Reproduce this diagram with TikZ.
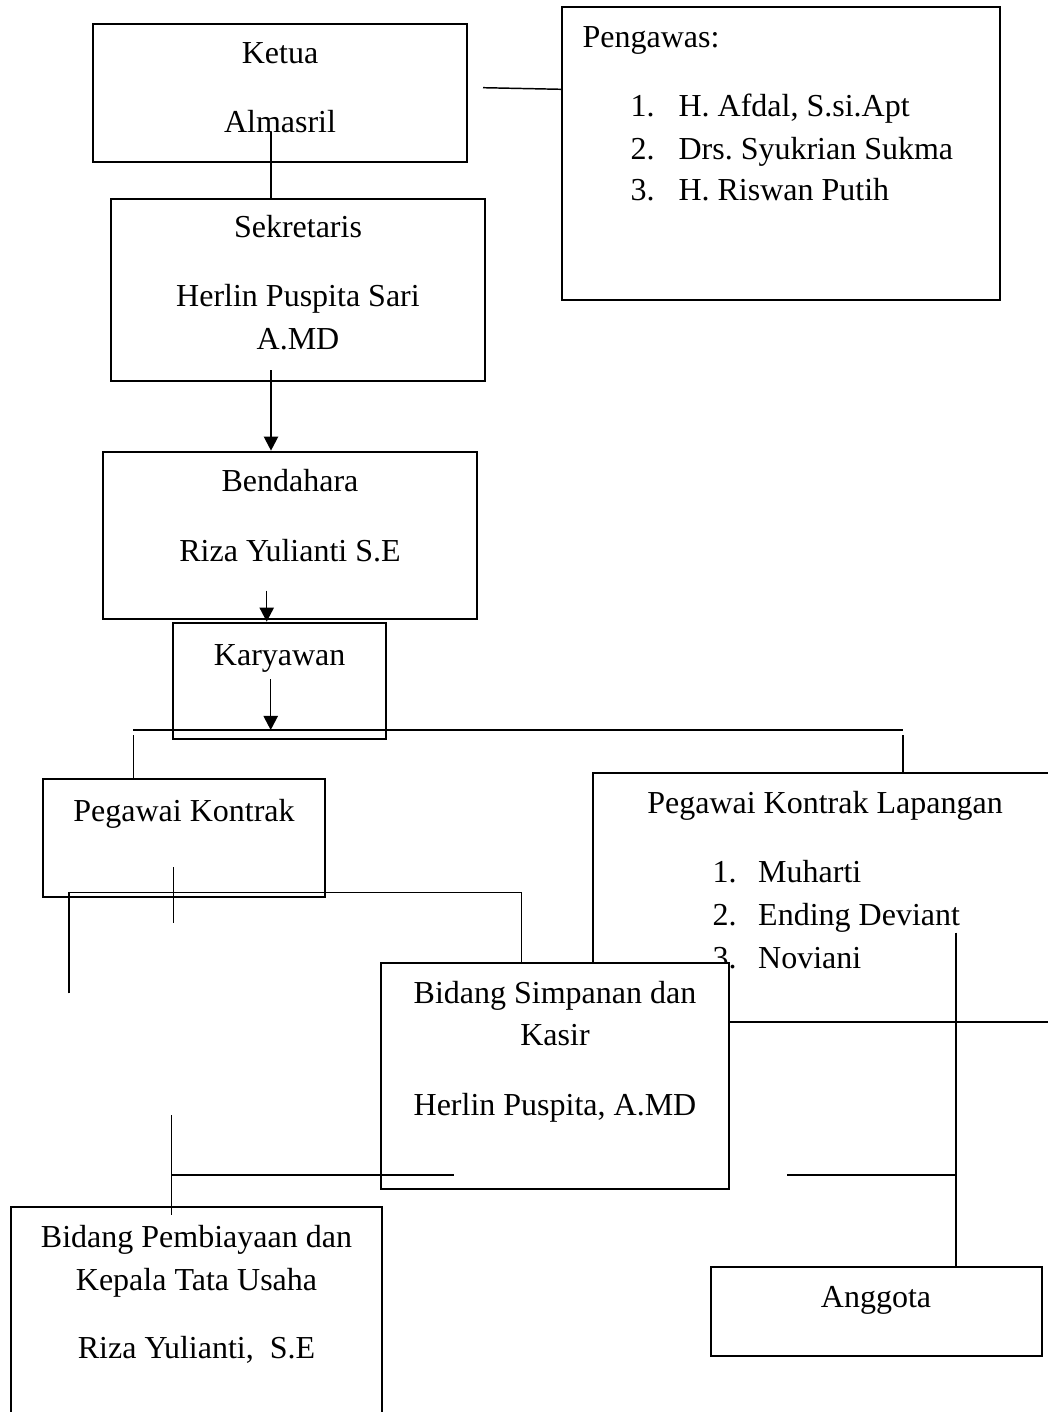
\documentclass[tikz,border=0pt]{standalone}
\usepackage{fontspec}
\setmainfont{Liberation Serif}
\usetikzlibrary{arrows.meta,fit}
\frenchspacing

\begin{document}
\begin{tikzpicture}[x=0.375pt, y=-0.375pt,
  box/.style={draw, line width=0.8pt, inner sep=0pt},
  lbl/.style={anchor=base, inner sep=0pt, font=\fontsize{12}{14}\selectfont},
  item/.style={lbl, anchor=base west},
  conn/.style={line width=0.55pt},
  arr/.style={conn, -{Triangle[length=5.3pt,width=5.4pt]}}]
\useasboundingbox (0,0) rectangle (1047,1412);

% upper part
\node[box, fit={(93,24) (467,162)}] (ketua) {};
\node[lbl] (ketuaA) at (280,63.3) {Ketua};
\node[lbl] (ketuaB) at (280,132.7) {Almasril};

\node[box, fit={(562,7.3) (1000,300)}] (pengawas) {};
\node[item] (pengawasT) at (582,47.3) {Pengawas:};
\node[item] (pn1) at (630,116.7) {1.};
\node[item] (pa1) at (678,116.7) {H. Afdal, S.si.Apt};
\node[item] (pn2) at (630,159.3) {2.};
\node[item] (pa2) at (678,159.3) {Drs. Syukrian Sukma};
\node[item] (pn3) at (630,201) {3.};
\node[item] (pa3) at (678,201) {H. Riswan Putih};

\node[box, fit={(111,199) (485,380.7)}] (sekretaris) {};
\node[lbl] (sekA) at (298,238) {Sekretaris};
\node[lbl] (sekB) at (298,307) {Herlin Puspita Sari};
\node[lbl] (sekC) at (298,350) {A.MD};

\node[box, fit={(103,451.7) (477,619.3)}] (bendahara) {};
\node[lbl] (benA) at (290,491.7) {Bendahara};
\node[lbl] (benB) at (290,561.7) {Riza Yulianti S.E};

\node[box, fit={(173.3,622.7) (386,739.3)}] (karyawan) {};
\node[lbl] (karA) at (279.7,665) {Karyawan};

% lower part
\node[box, fit={(43,779.3) (325,896.7)}] (kontrak) {};
\node[lbl] (konA) at (184,821) {Pegawai Kontrak};

\node[box, fit={(592.7,773.3) (1070,1021.7)}] (lapangan) {};
\node[lbl] (lapA) at (825,813.3) {Pegawai Kontrak Lapangan};
\node[item] (ln1) at (712,882.7) {1.};
\node[item] (la1) at (757.7,882.7) {Muharti};
\node[item] (ln2) at (712,925) {2.};
\node[item] (la2) at (757.7,925) {Ending Deviant};
\node[item] (ln3) at (712,968.3) {3.};
\node[item] (la3) at (757.7,968.3) {Noviani};

\node[box, fill=white, fit={(381,963) (729,1189)}] (simpanan) {};
\node[lbl] (simA) at (555,1003) {Bidang Simpanan dan};
\node[lbl] (simB) at (555,1045) {Kasir};
\node[lbl] (simC) at (555,1115) {Herlin Puspita, A.MD};

\node[box, fit={(11,1207) (381.7,1440)}] (pembiayaan) {};
\node[lbl] (pemA) at (196.5,1247) {Bidang Pembiayaan dan};
\node[lbl] (pemB) at (196.5,1290.3) {Kepala Tata Usaha};
\node[lbl] (pemC) at (196.5,1358.7) {Riza Yulianti,~~S.E};

\node[box, fit={(710.7,1267) (1041.7,1356)}] (anggota) {};
\node[lbl] (angA) at (876,1307) {Anggota};

% loose ends of the lines
\coordinate (pgw) at (483,87.7);
\coordinate (kt) at (271,132);
\coordinate (sk) at (271,370);
\coordinate (bd) at (266.7,590.7);
\coordinate (ky) at (270.7,679.3);
\coordinate (busL) at (133.3,730);
\coordinate (busR) at (903.3,730);
\coordinate (kL) at (133.3,735);
\coordinate (kR) at (903,735);
\coordinate (t1) at (173.3,867.3);
\coordinate (t2) at (173.3,922.7);
\coordinate (s1) at (69,993.3);
\coordinate (s2) at (69,892.7);
\coordinate (s3) at (521.7,892.7);
\coordinate (a1) at (956,932.7);
\coordinate (a2) at (787,1175);
\coordinate (p1) at (171.7,1115);
\coordinate (p2) at (171.7,1215);
\coordinate (p3) at (454,1175);

% connectors
\draw[conn] (pgw) -- (pengawas.west |- 0,89.3);
\draw[conn] (kt) -- (kt |- sekretaris.north);
\draw[arr] (sk) -- (sk |- bendahara.north);
\draw[arr] (bd) -- (bd |- karyawan.north);
\draw[arr] (ky) -- (ky |- busL);
\draw[conn] (busL) -- (busR);
\draw[conn] (kL) -- (kL |- kontrak.north);
\draw[conn] (kR) -- (kR |- lapangan.north);
\draw[conn] (t1) -- (t2);
\draw[conn] (s1) -- (s2) -- (s3) -- (s3 |- simpanan.north);
\draw[conn] (a1) -- (a1 |- anggota.north);
\draw[conn] (a2) -- (a1 |- a2);
\draw[conn] (p1) -- (p2);
\draw[conn] (p1 |- p3) -- (p3);
\end{tikzpicture}
\end{document}
